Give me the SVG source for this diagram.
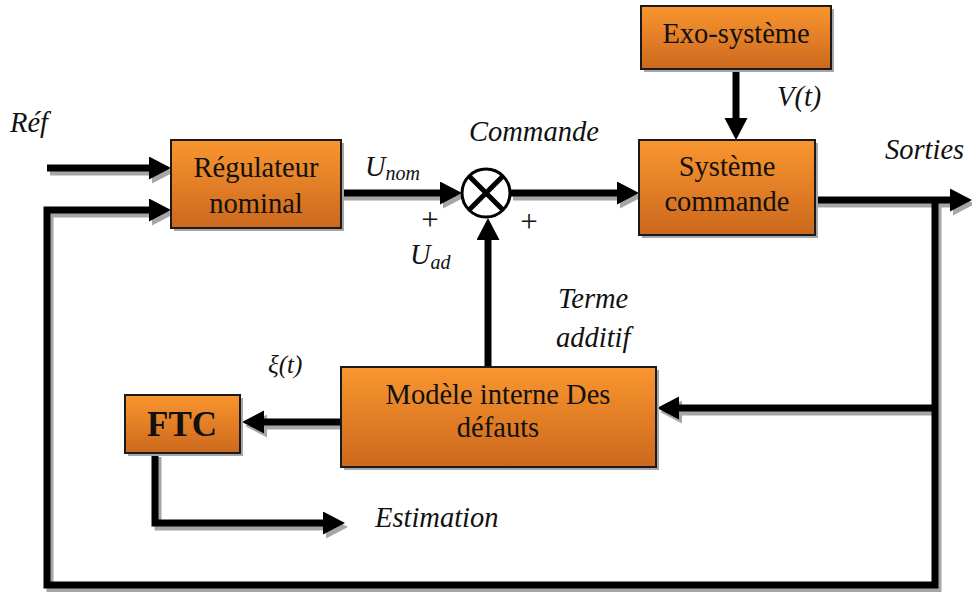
<svg xmlns="http://www.w3.org/2000/svg" width="972" height="592" viewBox="0 0 972 592">
<style>
.box{fill:url(#og);stroke:#1a1a1a;stroke-width:2}
.bsh{fill:#a6a6a6}
.t{font-family:"Liberation Serif","Times New Roman",serif;font-size:28.5px;fill:#111;text-anchor:middle}
.lb{font-family:"Liberation Serif","Times New Roman",serif;font-size:28.5px;font-style:italic;fill:#111}
.pl{font-family:"Liberation Serif","Times New Roman",serif;font-size:31px;fill:#111;text-anchor:middle}
.sub{font-size:20px}
.w{fill:none;stroke:#000;stroke-width:7}
.ws{fill:none;stroke:#a6a6a6;stroke-width:7}
</style>
<defs>
<linearGradient id="og" x1="0" y1="0" x2="0" y2="1">
<stop offset="0" stop-color="#F9962F"/>
<stop offset="1" stop-color="#CC681D"/>
</linearGradient>
<marker id="ab" markerUnits="userSpaceOnUse" markerWidth="24" markerHeight="24" refX="0" refY="11.5" orient="auto" viewBox="0 0 24 24">
<path d="M0,0 L22,11.5 L0,23 z" fill="#000"/>
</marker>
<marker id="ag" markerUnits="userSpaceOnUse" markerWidth="24" markerHeight="24" refX="0" refY="11.5" orient="auto" viewBox="0 0 24 24">
<path d="M0,0 L22,11.5 L0,23 z" fill="#a6a6a6"/>
</marker>
</defs>
<rect width="972" height="592" fill="#fff"/>
<g id="connectors">
<g transform="translate(3,4)">
<path class="ws" d="M47,168 H149" marker-end="url(#ag)"/>
<path class="ws" d="M935,200 V585 H47 V210 H149" marker-end="url(#ag)"/>
<path class="ws" d="M935,408 H679" marker-end="url(#ag)"/>
<path class="ws" d="M341,193 H440" marker-end="url(#ag)"/>
<path class="ws" d="M510,193 H617" marker-end="url(#ag)"/>
<path class="ws" d="M815,200 H950" marker-end="url(#ag)"/>
<path class="ws" d="M341,422 H264" marker-end="url(#ag)"/>
<path class="ws" d="M155,453 V523 H323" marker-end="url(#ag)"/>
</g>
<path class="w" d="M47,168 H149" marker-end="url(#ab)"/>
<path class="w" d="M935,200 V585 H47 V210 H149" marker-end="url(#ab)"/>
<path class="w" d="M935,408 H679" marker-end="url(#ab)"/>
<path class="w" d="M341,193 H440" marker-end="url(#ab)"/>
<path class="w" d="M510,193 H617" marker-end="url(#ab)"/>
<path class="w" d="M488,367 V240" marker-end="url(#ab)"/>
<path class="w" d="M736,69 V118" marker-end="url(#ab)"/>
<path class="w" d="M815,200 H950" marker-end="url(#ab)"/>
<path class="w" d="M341,422 H264" marker-end="url(#ab)"/>
<path class="w" d="M155,453 V523 H323" marker-end="url(#ab)"/>
</g>
<g id="regulateur">
<rect class="bsh" x="174" y="143" width="170" height="88"/>
<rect class="box" x="171" y="140" width="170" height="88"/>
<text class="t" x="256" y="177">Régulateur</text>
<text class="t" x="256" y="213">nominal</text>
</g>
<g id="sommateur">
<circle cx="486" cy="193" r="24" fill="#fff" stroke="#000" stroke-width="3"/>
<path d="M469,176 L503,210 M503,176 L469,210" stroke="#000" stroke-width="5"/>
</g>
<g id="exo">
<rect class="bsh" x="644" y="9" width="190" height="63"/>
<rect class="box" x="641" y="6" width="190" height="63"/>
<text class="t" x="736" y="43">Exo-système</text>
</g>
<g id="systeme">
<rect class="bsh" x="642" y="143" width="176" height="95"/>
<rect class="box" x="639" y="140" width="176" height="95"/>
<text class="t" x="727" y="176">Système</text>
<text class="t" x="727" y="211">commande</text>
</g>
<g id="modele">
<rect class="bsh" x="344" y="370" width="315" height="100"/>
<rect class="box" x="341" y="367" width="315" height="100"/>
<text class="t" x="498" y="404">Modèle interne Des</text>
<text class="t" x="498" y="437">défauts</text>
</g>
<g id="ftc">
<rect class="bsh" x="128" y="398" width="115" height="58"/>
<rect class="box" x="125" y="395" width="115" height="58"/>
<text class="t" x="182" y="436" style="font-weight:bold;font-size:35px">FTC</text>
</g>
<g id="labels">
<text class="lb" x="10" y="132">Réf</text>
<text class="lb" x="365" y="176">U<tspan class="sub" dy="4">nom</tspan></text>
<text class="lb" x="469" y="141">Commande</text>
<text class="pl" x="430" y="230">+</text>
<text class="pl" x="529" y="232">+</text>
<text class="lb" x="410" y="264">U<tspan class="sub" dy="5">ad</tspan></text>
<text class="lb" x="777" y="106">V(t)</text>
<text class="lb" x="885" y="159">Sorties</text>
<text class="lb" x="558" y="308">Terme</text>
<text class="lb" x="556" y="347">additif</text>
<text class="lb" x="268" y="373" style="font-size:25px">ξ(t)</text>
<text class="lb" x="375" y="527">Estimation</text>
</g>
</svg>
